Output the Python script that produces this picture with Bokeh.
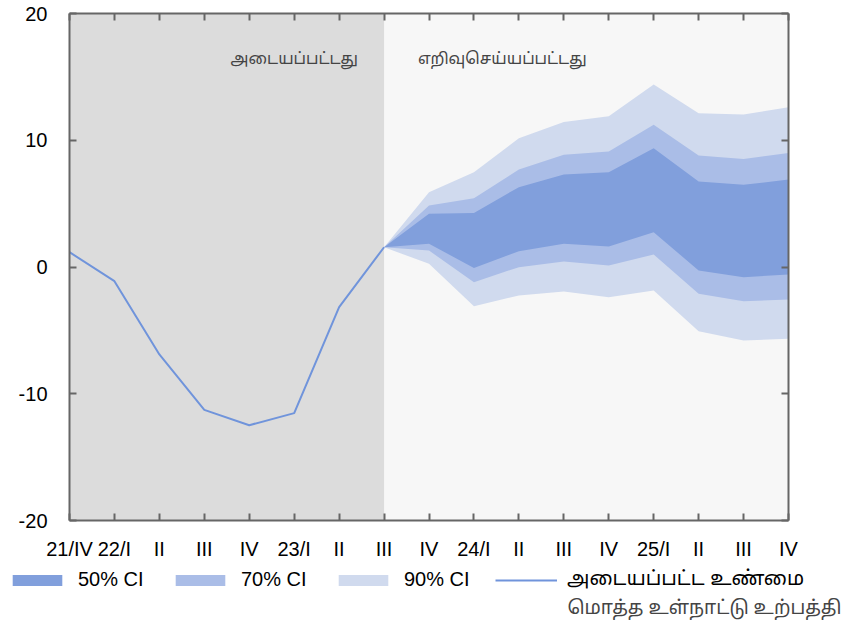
import numpy as np
from bokeh.plotting import figure
from bokeh.layouts import column
from bokeh.models import (LinearAxis, FixedTicker, BoxAnnotation, Label, Legend,
                          LegendItem, ColumnDataSource, Range1d)
from bokeh.embed import file_html
from bokeh.resources import INLINE

# ---- data ----
quarters = ["21/IV", "22/I", "II", "III", "IV", "23/I", "II", "III", "IV",
            "24/I", "II", "III", "IV", "25/I", "II", "III", "IV"]
actual = [1.17, -1.12, -6.9, -11.27, -12.48, -11.53, -3.17, 1.56]
last_actual = 7
upper90 = [1.56, 5.9, 7.48, 10.16, 11.43, 11.9, 14.4, 12.14, 12.03, 12.61]
upper70 = [1.56, 4.85, 5.43, 7.69, 8.85, 9.11, 11.22, 8.8, 8.53, 9.0]
upper50 = [1.56, 4.2, 4.27, 6.3, 7.3, 7.48, 9.37, 6.75, 6.48, 6.9]
lower50 = [1.56, 1.83, -0.07, 1.25, 1.83, 1.62, 2.75, -0.28, -0.8, -0.59]
lower70 = [1.56, 1.3, -1.2, -0.01, 0.43, 0.12, 0.99, -2.12, -2.7, -2.56]
lower90 = [1.56, 0.25, -3.09, -2.25, -1.93, -2.38, -1.85, -5.06, -5.8, -5.67]
y_ticks = [-20, -10, 0, 10, 20]
y_tick_labels = ["-20", "-10", "0", "10", "20"]

label_hist = "அடையப்பட்டது"
label_fc = "எறிவுசெய்யப்பட்டது"
legend_labels = ["50% CI", "70% CI", "90% CI", "அடையப்பட்ட உண்மை"]
footnote = "மொத்த உள்நாட்டு உற்பத்தி"

# ---- styles ----
C50, C70, C90 = "#819fdc", "#aabde7", "#d0daee"
LINE = "#7094db"
AX = "#666666"
FONT = "Liberation Sans"
TAMIL = "Noto Sans Tamil, Noto Sans, sans-serif"

x_act = list(range(len(actual)))
x_fc = list(range(last_actual, last_actual + len(upper90)))
src_fc = ColumnDataSource(dict(x=x_fc, u90=upper90, u70=upper70, u50=upper50,
                               l50=lower50, l70=lower70, l90=lower90))

p = figure(width=845, height=565, output_backend="svg", toolbar_location=None,
           x_range=Range1d(0, len(quarters) - 1), y_range=Range1d(-20, 20),
           min_border_left=69, min_border_right=57, min_border_top=13,
           min_border_bottom=45)
p.background_fill_color = "#f7f7f7"
p.border_fill_color = "white"
p.outline_line_color = None
p.grid.visible = False

p.add_layout(BoxAnnotation(left=0, right=last_actual, fill_color="#dcdcdc",
                           fill_alpha=1, line_color=None, level="underlay"))

r90 = p.varea(x="x", y1="l90", y2="u90", source=src_fc, fill_color=C90)
r70 = p.varea(x="x", y1="l70", y2="u70", source=src_fc, fill_color=C70)
r50 = p.varea(x="x", y1="l50", y2="u50", source=src_fc, fill_color=C50)
rl = p.line(x_act, actual, line_color=LINE, line_width=2)

# axes
xt = FixedTicker(ticks=list(range(len(quarters))))
yt = FixedTicker(ticks=y_ticks)
xa = p.xaxis[0]
xa.ticker = xt
xa.major_label_overrides = {i: q for i, q in enumerate(quarters)}
ya = p.yaxis[0]
ya.ticker = yt
ya.major_label_overrides = {t: s for t, s in zip(y_ticks, y_tick_labels)}
for ax in (xa, ya):
    ax.axis_line_color = AX
    ax.axis_line_width = 2
    ax.major_tick_line_color = AX
    ax.major_tick_line_width = 2
    ax.major_tick_in = 7
    ax.major_tick_out = 0
    ax.minor_tick_line_color = None
    ax.major_label_text_font = FONT
    ax.major_label_text_font_size = "20px"
    ax.major_label_text_color = "black"
xa.major_label_standoff = 17
ya.major_label_standoff = 22

top = LinearAxis(ticker=xt, major_label_standoff=0,
                 major_label_overrides={i: "" for i in range(len(quarters))})
right = LinearAxis(ticker=yt, major_label_standoff=0,
                   major_label_overrides={t: "" for t in y_ticks})
for ax in (top, right):
    ax.axis_line_color = AX
    ax.axis_line_width = 2
    ax.major_tick_line_color = AX
    ax.major_tick_line_width = 2
    ax.major_tick_in = 7
    ax.major_tick_out = 0
    ax.minor_tick_line_color = None
p.add_layout(top, "above")
p.add_layout(right, "right")

# section labels
p.add_layout(Label(x=last_actual, y=16.3, x_offset=-26, text=label_hist,
                   text_align="right", text_baseline="middle",
                   text_font=TAMIL, text_font_size="16px"))
p.add_layout(Label(x=last_actual, y=16.3, x_offset=34, text=label_fc,
                   text_align="left", text_baseline="middle",
                   text_font=TAMIL, text_font_size="16px"))

# legend + footnote strip (its own canvas, full width)
q = figure(width=845, height=64, output_backend="svg", toolbar_location=None,
           x_range=Range1d(0, 845), y_range=Range1d(0, 64),
           x_axis_type=None, y_axis_type=None, min_border=0)
q.frame_align = False
q.outline_line_color = None
q.grid.visible = False
nan = np.array([np.nan])
swatch = ColumnDataSource(dict(x=nan, y1=nan, y2=nan))
g50 = q.varea(x="x", y1="y1", y2="y2", source=swatch, fill_color=C50)
g70 = q.varea(x="x", y1="y1", y2="y2", source=swatch, fill_color=C70)
g90 = q.varea(x="x", y1="y1", y2="y2", source=swatch, fill_color=C90)
gl = q.line(x="x", y="y1", source=swatch, line_color=LINE, line_width=2)
legend = Legend(items=[LegendItem(label=legend_labels[0], renderers=[g50]),
                       LegendItem(label=legend_labels[1], renderers=[g70]),
                       LegendItem(label=legend_labels[2], renderers=[g90]),
                       LegendItem(label=legend_labels[3], renderers=[gl])],
                location=(6, 37), orientation="horizontal",
                glyph_width=62, glyph_height=14, label_standoff=10,
                label_width=72, spacing=19, padding=0, margin=0,
                border_line_color=None, background_fill_alpha=0,
                label_text_font=FONT + ", Noto Sans Tamil",
                label_text_font_size="20px", label_text_color="black",
                label_text_baseline="middle")
q.add_layout(legend, "center")
q.add_layout(Label(x=841, y=21, text=footnote, text_align="right",
                   text_baseline="middle", text_font=TAMIL,
                   text_font_size="19px"))

open("out.html", "w").write(file_html(column(p, q, spacing=0), INLINE))
